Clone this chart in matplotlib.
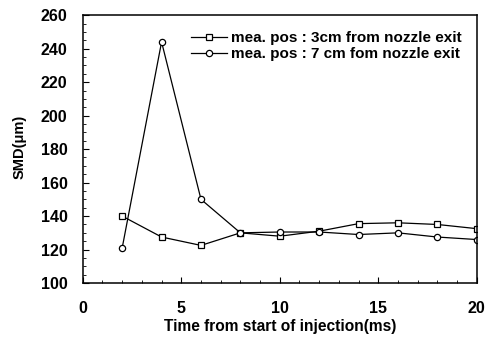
import matplotlib
matplotlib.use("Agg")
import matplotlib.pyplot as plt
from matplotlib.ticker import MultipleLocator

plt.rcParams['font.family'] = ['Liberation Sans', 'DejaVu Sans']
plt.rcParams['font.weight'] = 'bold'

time_ms = [2, 4, 6, 8, 10, 12, 14, 16, 18, 20]
smd_3cm = [140, 127.5, 122.5, 130, 128, 131, 135.5, 136, 135, 132.5]
smd_7cm = [121, 244, 150, 130, 130.5, 130.5, 129, 130, 127.5, 126]
labels = ["mea. pos : 3cm from nozzle exit", "mea. pos : 7 cm fom nozzle exit"]

fig = plt.figure(figsize=(4.87, 3.37), dpi=100)
ax = fig.add_axes([0.170, 0.160, 0.809, 0.795])

ax.plot(time_ms, smd_3cm, color='black', lw=0.9, marker='s', ms=4.5,
        mfc='white', mec='black', mew=0.9, label=labels[0])
ax.plot(time_ms, smd_7cm, color='black', lw=0.9, marker='o', ms=4.5,
        mfc='white', mec='black', mew=0.9, label=labels[1])

ax.set_xlim(0, 20)
ax.set_ylim(100, 260)
ax.xaxis.set_major_locator(MultipleLocator(5))
ax.xaxis.set_minor_locator(MultipleLocator(1))
ax.yaxis.set_major_locator(MultipleLocator(20))
ax.yaxis.set_minor_locator(MultipleLocator(5))
ax.tick_params(which='both', direction='in', labelsize=11.5)
ax.tick_params(which='major', length=4)
ax.tick_params(which='minor', length=2)
ax.tick_params(axis='x', pad=13)
ax.tick_params(axis='y', pad=11)
for s in ax.spines.values():
    s.set_linewidth(1.1)

ax.set_xlabel("Time from start of injection(ms)", fontsize=11.2, fontweight='bold')
ax.set_ylabel("SMD(\u03bcm)", fontsize=10.5, fontweight='bold')
ax.xaxis.set_label_coords(0.502, -0.135)
ax.yaxis.set_label_coords(-0.142, 0.51)

leg = ax.legend(loc='upper right', frameon=False, prop={'size': 11, 'weight': 'bold'},
                handlelength=2.4, handletextpad=0.25, labelspacing=0.12,
                borderpad=0, borderaxespad=0,
                bbox_to_anchor=(0.962, 0.94))

fig.savefig("out.png", dpi=100)
